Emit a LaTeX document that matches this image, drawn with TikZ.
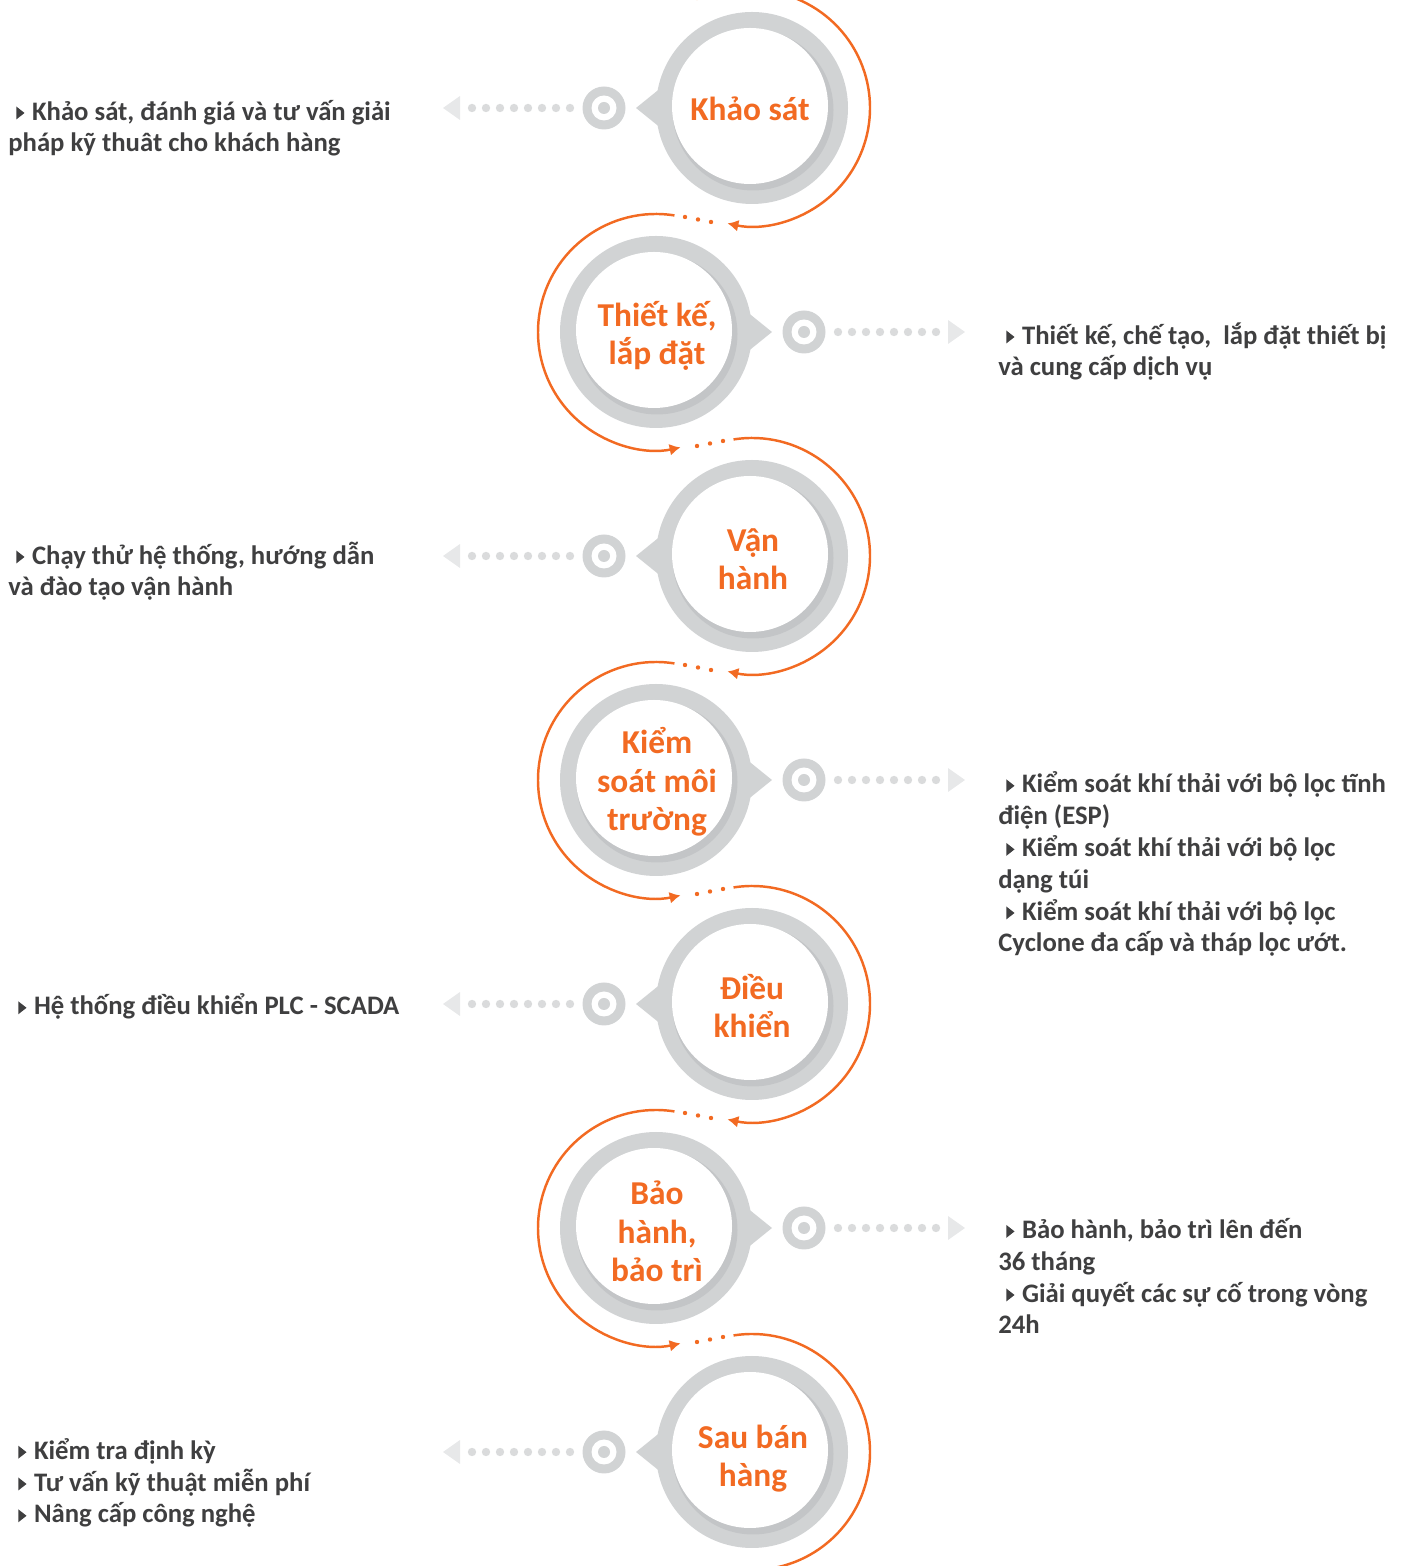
\documentclass[tikz,border=0pt]{standalone}
\usepackage{fontspec}
\setmainfont{Carlito}
\usetikzlibrary{arrows.meta,positioning}

\definecolor{brand}{HTML}{F26A22}
\definecolor{ring}{HTML}{D1D3D4}
\definecolor{ringshade}{HTML}{C3C5C7}
\definecolor{dotgray}{HTML}{DADBDC}
\definecolor{tipgray}{HTML}{E7E8E9}
\definecolor{body}{HTML}{3F3F40}

\newcommand\bul{\hspace*{4.5pt}\tikz[baseline]\fill[body] (0,0.4pt) -- (0,7.8pt) -- (4.7pt,4.1pt) -- cycle;\hspace{4.3pt}}

\tikzset{
  stepname/.style={text=brand, font=\fontsize{19}{22}\selectfont\bfseries,
    align=center, anchor=base, inner sep=0pt},
  info/.style={text=body, font=\fontsize{15.2}{18.1}\selectfont\bfseries,
    align=left, anchor=base west, inner sep=0pt},
  flowline/.style={brand, line width=1.4pt},
  flow/.style={flowline, -{Latex[length=6.2pt,width=6.8pt]}}
}

\begin{document}
\begin{tikzpicture}[x=0.02cm, y=0.02cm]
\useasboundingbox (0,0) rectangle (1415,1566);
\clip (0,0) rectangle (1415,1566);

% rings, pointers, targets and leaders
\foreach \n/\cx/\cy/\s/\tip in {1/752/1458/-1/flow, 2/656/1234/1/flow, 3/752/1010/-1/flow,
    4/656/786/1/flow, 5/752/562/-1/flow, 6/656/338/1/flow, 7/752/114/-1/flowline}{
  \coordinate (c\n) at (\cx,\cy);
  \fill[ring] (\cx+116*\s,\cy) -- (\cx+90*\s,\cy+21) -- (\cx+90*\s,\cy-21) -- cycle;
  \fill[ring] (c\n) circle[radius=96];
  \fill[ringshade] (\cx+1,\cy-2) circle[radius=80.5];
  \fill[white] (\cx-2,\cy+2) circle[radius=78];
  % target
  \coordinate (tgt\n) at (\cx+148*\s,\cy);
  \fill[ring] (tgt\n) circle[radius=21.5];
  \fill[white] (tgt\n) circle[radius=12.5];
  \fill[ring] (tgt\n) circle[radius=6];
  \foreach \k in {0,...,7}
    \fill[dotgray] (\cx+182*\s+14*\k*\s,\cy) circle[radius=4.2];
  \fill[tipgray] (\cx+309*\s,\cy) -- (\cx+292*\s,\cy+12) -- (\cx+292*\s,\cy-12) -- cycle;
  % orange flow
  \draw[\tip] (c\n) ++({90-9*\s}:118) arc[start angle={90-9*\s}, delta angle={201*\s}, radius=118];
  \foreach \dx/\dy in {29/115, 42/112.5, 55/110}
    \fill[brand] (\cx+\dx*\s,\cy+\dy) circle[radius=2.2];
}

% step names (anchor = baseline of last line)
\node[stepname] (step1) at (750,1445) {Khảo sát};
\node[stepname] (step2) at (657,1201) {Thiết kế,\\lắp đặt};
\node[stepname] (step3) at (753,976) {Vận\\hành};
\node[stepname] (step4) at (657,735) {Kiểm\\soát môi\\trường};
\node[stepname] (step5) at (752,528) {Điều\\khiển};
\node[stepname] (step6) at (657,284) {Bảo\\hành,\\bảo trì};
\node[stepname] (step7) at (753,79) {Sau bán\\hàng};

% descriptions
\node[info] (info1) at (8,1414) {\bul Khảo sát, đánh giá và tư vấn giải\\pháp kỹ thuât cho khách hàng};
\node[info] (info2) at (998,1190) {\bul Thiết kế, chế tạo,~ lắp đặt thiết bị\\và cung cấp dịch vụ};
\node[info] (info3) at (8,970) {\bul Chạy thử hệ thống, hướng dẫn\\và đào tạo vận hành};
\node[info] (info4) at (998,614) {\bul Kiểm soát khí thải với bộ lọc tĩnh\\điện (ESP)\\
  \bul Kiểm soát khí thải với bộ lọc\\dạng túi\\
  \bul Kiểm soát khí thải với bộ lọc\\Cyclone đa cấp và tháp lọc ướt.};
\node[info] (info5) at (10,551) {\bul Hệ thống điều khiển PLC - SCADA};
\node[info] (info6) at (998,232) {\bul Bảo hành, bảo trì lên đến\\36 tháng\\
  \bul Giải quyết các sự cố trong vòng\\24h};
\node[info] (info7) at (10,43) {\bul Kiểm tra định kỳ\\\bul Tư vấn kỹ thuật miễn phí\\\bul Nâng cấp công nghệ};
\end{tikzpicture}
\end{document}
